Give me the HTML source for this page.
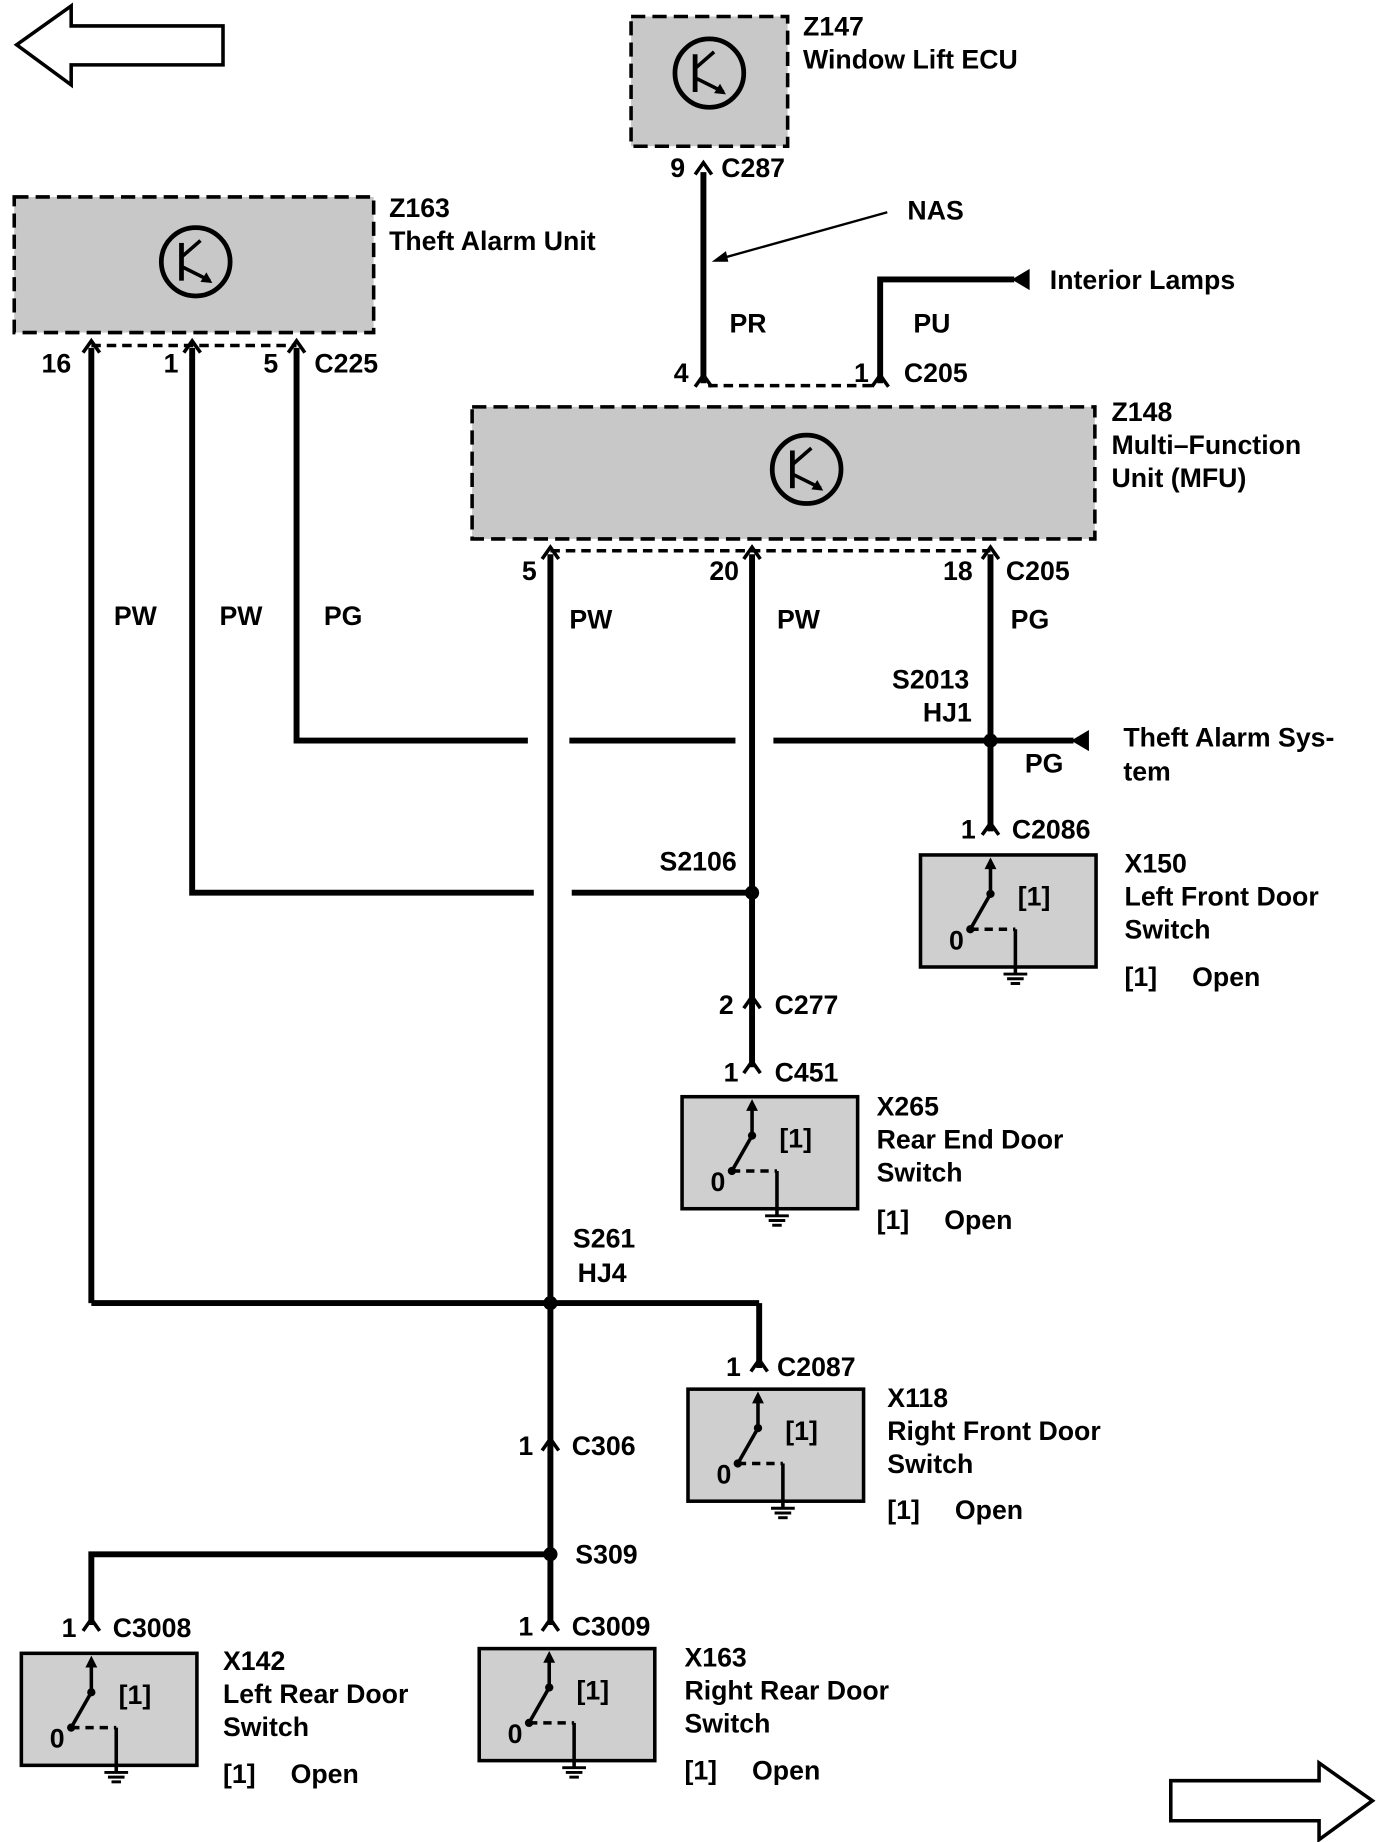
<!DOCTYPE html>
<html><head><meta charset="utf-8"><style>html,body{margin:0;padding:0;background:#fff}svg{display:block}</style></head><body>
<svg width="1376" height="1842" viewBox="0 0 1160 1562" preserveAspectRatio="none" xmlns="http://www.w3.org/2000/svg" font-family="Liberation Sans, sans-serif" font-weight="bold" font-size="22.5">
<defs>
<g id="sw">
 <rect x="0" y="0" width="148" height="95" fill="#cfcfcf" stroke="#000" stroke-width="3"/>
 <line x1="59" y1="8" x2="59" y2="33" stroke="#000" stroke-width="3"/>
 <polygon points="59,2 54,12 64,12" fill="#000"/>
 <circle cx="59" cy="33" r="3.5"/>
 <line x1="59" y1="33" x2="42" y2="63" stroke="#000" stroke-width="3"/>
 <circle cx="42" cy="63" r="3.5"/>
 <line x1="42" y1="63" x2="80" y2="63" stroke="#000" stroke-width="3" stroke-dasharray="7,5"/>
 <line x1="80" y1="63" x2="80" y2="95" stroke="#000" stroke-width="3"/>
 <line x1="80" y1="95" x2="80" y2="100" stroke="#000" stroke-width="3"/>
 <line x1="70" y1="101" x2="90" y2="101" stroke="#000" stroke-width="2.5"/>
 <line x1="73" y1="105" x2="87" y2="105" stroke="#000" stroke-width="2.5"/>
 <line x1="76" y1="109" x2="84" y2="109" stroke="#000" stroke-width="2.5"/>
 <text x="24" y="80">0</text>
 <text x="82" y="43">[1]</text>
</g>
<g id="tr">
 <circle cx="0" cy="0" r="29" fill="none" stroke="#000" stroke-width="4"/>
 <line x1="-12" y1="-16" x2="-12" y2="16" stroke="#000" stroke-width="4"/>
 <line x1="-12" y1="-4" x2="4" y2="-18" stroke="#000" stroke-width="3"/>
 <line x1="-12" y1="4" x2="12" y2="16" stroke="#000" stroke-width="3"/>
 <polygon points="14,18 4,17 9,9" fill="#000"/>
</g>
<g id="cn"><path d="M-7,8 L0,-2 L7,8" fill="none" stroke="#000" stroke-width="3"/></g>
</defs>

<polygon points="14,38 60,5 60,22 188,22 188,55 60,55 60,72" fill="#fff" stroke="#000" stroke-width="3"/>
<polygon points="1157,1527 1112,1495 1112,1510 987,1510 987,1544 1112,1544 1112,1560" fill="#fff" stroke="#000" stroke-width="3"/>

<rect x="532" y="14" width="132" height="110" fill="#c8c8c8" stroke="#000" stroke-width="3" stroke-dasharray="12,6"/>
<use href="#tr" x="598" y="62"/>
<text x="677" y="30">Z147</text><text x="677" y="58">Window Lift ECU</text>

<rect x="12" y="167" width="303" height="115" fill="#c8c8c8" stroke="#000" stroke-width="3" stroke-dasharray="12,6"/>
<use href="#tr" x="165" y="222"/>
<text x="328" y="184">Z163</text><text x="328" y="212">Theft Alarm Unit</text>

<rect x="398" y="345" width="525" height="112" fill="#c8c8c8" stroke="#000" stroke-width="3" stroke-dasharray="12,6"/>
<use href="#tr" x="680" y="398"/>
<text x="937" y="357">Z148</text><text x="937" y="385">Multi–Function</text><text x="937" y="413">Unit (MFU)</text>

<g stroke="#000" stroke-width="5" fill="none">
 <line x1="593" y1="146" x2="593" y2="325"/>
 <polyline points="742,325 742,237 855,237"/>
 <line x1="77" y1="295" x2="77" y2="1105"/>
 <line x1="77" y1="1105" x2="640" y2="1105"/>
 <line x1="640" y1="1105" x2="640" y2="1160"/>
 <polyline points="162,295 162,757 450,757"/>
 <line x1="482" y1="757" x2="634" y2="757"/>
 <polyline points="250,295 250,628 445,628"/>
 <line x1="480" y1="628" x2="620" y2="628"/>
 <line x1="652" y1="628" x2="905" y2="628"/>
 <line x1="464" y1="470" x2="464" y2="1378"/>
 <line x1="634" y1="470" x2="634" y2="905"/>
 <line x1="835" y1="470" x2="835" y2="705"/>
 <polyline points="464,1318 77,1318 77,1378"/>
</g>
<g stroke="#000" stroke-width="3" stroke-dasharray="8,5">
 <line x1="597" y1="327" x2="740" y2="327"/>
 <line x1="77" y1="293" x2="250" y2="293"/>
 <line x1="464" y1="467" x2="835" y2="467"/>
</g>
<polygon points="853,237 868,228 868,246" fill="#000"/>
<polygon points="903,628 918,619 918,637" fill="#000"/>
<line x1="748" y1="180" x2="605" y2="220" stroke="#000" stroke-width="2"/>
<polygon points="600,222 612,213 614,222" fill="#000"/>

<use href="#cn" x="593" y="140"/><use href="#cn" x="593" y="320"/><use href="#cn" x="742" y="320"/>
<use href="#cn" x="77" y="291"/><use href="#cn" x="162" y="291"/><use href="#cn" x="250" y="291"/>
<use href="#cn" x="464" y="466"/><use href="#cn" x="634" y="466"/><use href="#cn" x="835" y="466"/>
<use href="#cn" x="835" y="700"/><use href="#cn" x="634" y="847"/><use href="#cn" x="634" y="902"/>
<use href="#cn" x="640" y="1155"/><use href="#cn" x="464" y="1222"/><use href="#cn" x="77" y="1375"/><use href="#cn" x="464" y="1375"/>

<g fill="#000">
 <circle cx="835" cy="628" r="6"/><circle cx="634" cy="757" r="6"/>
 <circle cx="464" cy="1105" r="6"/><circle cx="464" cy="1318" r="6"/>
</g>

<use href="#sw" x="776" y="725"/>
<use href="#sw" x="575" y="930"/>
<use href="#sw" x="580" y="1178"/>
<use href="#sw" x="18" y="1402"/>
<use href="#sw" x="404" y="1398"/>

<text x="565" y="150">9</text><text x="608" y="150">C287</text>
<text x="765" y="186">NAS</text>
<text x="885" y="245">Interior Lamps</text>
<text x="615" y="282">PR</text><text x="770" y="282">PU</text>
<text x="568" y="324">4</text><text x="720" y="324">1</text><text x="762" y="324">C205</text>
<text x="35" y="316">16</text><text x="138" y="316">1</text><text x="222" y="316">5</text><text x="265" y="316">C225</text>
<text x="96" y="530">PW</text><text x="185" y="530">PW</text><text x="273" y="530">PG</text>
<text x="440" y="492">5</text><text x="598" y="492">20</text><text x="795" y="492">18</text><text x="848" y="492">C205</text>
<text x="480" y="533">PW</text><text x="655" y="533">PW</text><text x="852" y="533">PG</text>
<text x="752" y="584">S2013</text><text x="778" y="612">HJ1</text>
<text x="864" y="655">PG</text>
<text x="947" y="633">Theft Alarm Sys-</text><text x="947" y="662">tem</text>
<text x="810" y="711">1</text><text x="853" y="711">C2086</text>
<text x="948" y="740">X150</text><text x="948" y="768">Left Front Door</text><text x="948" y="796">Switch</text>
<text x="948" y="836">[1]</text><text x="1005" y="836">Open</text>
<text x="556" y="738">S2106</text>
<text x="606" y="860">2</text><text x="653" y="860">C277</text>
<text x="610" y="917">1</text><text x="653" y="917">C451</text>
<text x="739" y="946">X265</text><text x="739" y="974">Rear End Door</text><text x="739" y="1002">Switch</text>
<text x="739" y="1042">[1]</text><text x="796" y="1042">Open</text>
<text x="483" y="1058">S261</text><text x="487" y="1087">HJ4</text>
<text x="612" y="1167">1</text><text x="655" y="1167">C2087</text>
<text x="748" y="1193">X118</text><text x="748" y="1221">Right Front Door</text><text x="748" y="1249">Switch</text>
<text x="748" y="1288">[1]</text><text x="805" y="1288">Open</text>
<text x="437" y="1234">1</text><text x="482" y="1234">C306</text>
<text x="485" y="1326">S309</text>
<text x="52" y="1388">1</text><text x="95" y="1388">C3008</text>
<text x="437" y="1387">1</text><text x="482" y="1387">C3009</text>
<text x="188" y="1416">X142</text><text x="188" y="1444">Left Rear Door</text><text x="188" y="1472">Switch</text>
<text x="188" y="1512">[1]</text><text x="245" y="1512">Open</text>
<text x="577" y="1413">X163</text><text x="577" y="1441">Right Rear Door</text><text x="577" y="1469">Switch</text>
<text x="577" y="1509">[1]</text><text x="634" y="1509">Open</text>
</svg>
</body></html>
